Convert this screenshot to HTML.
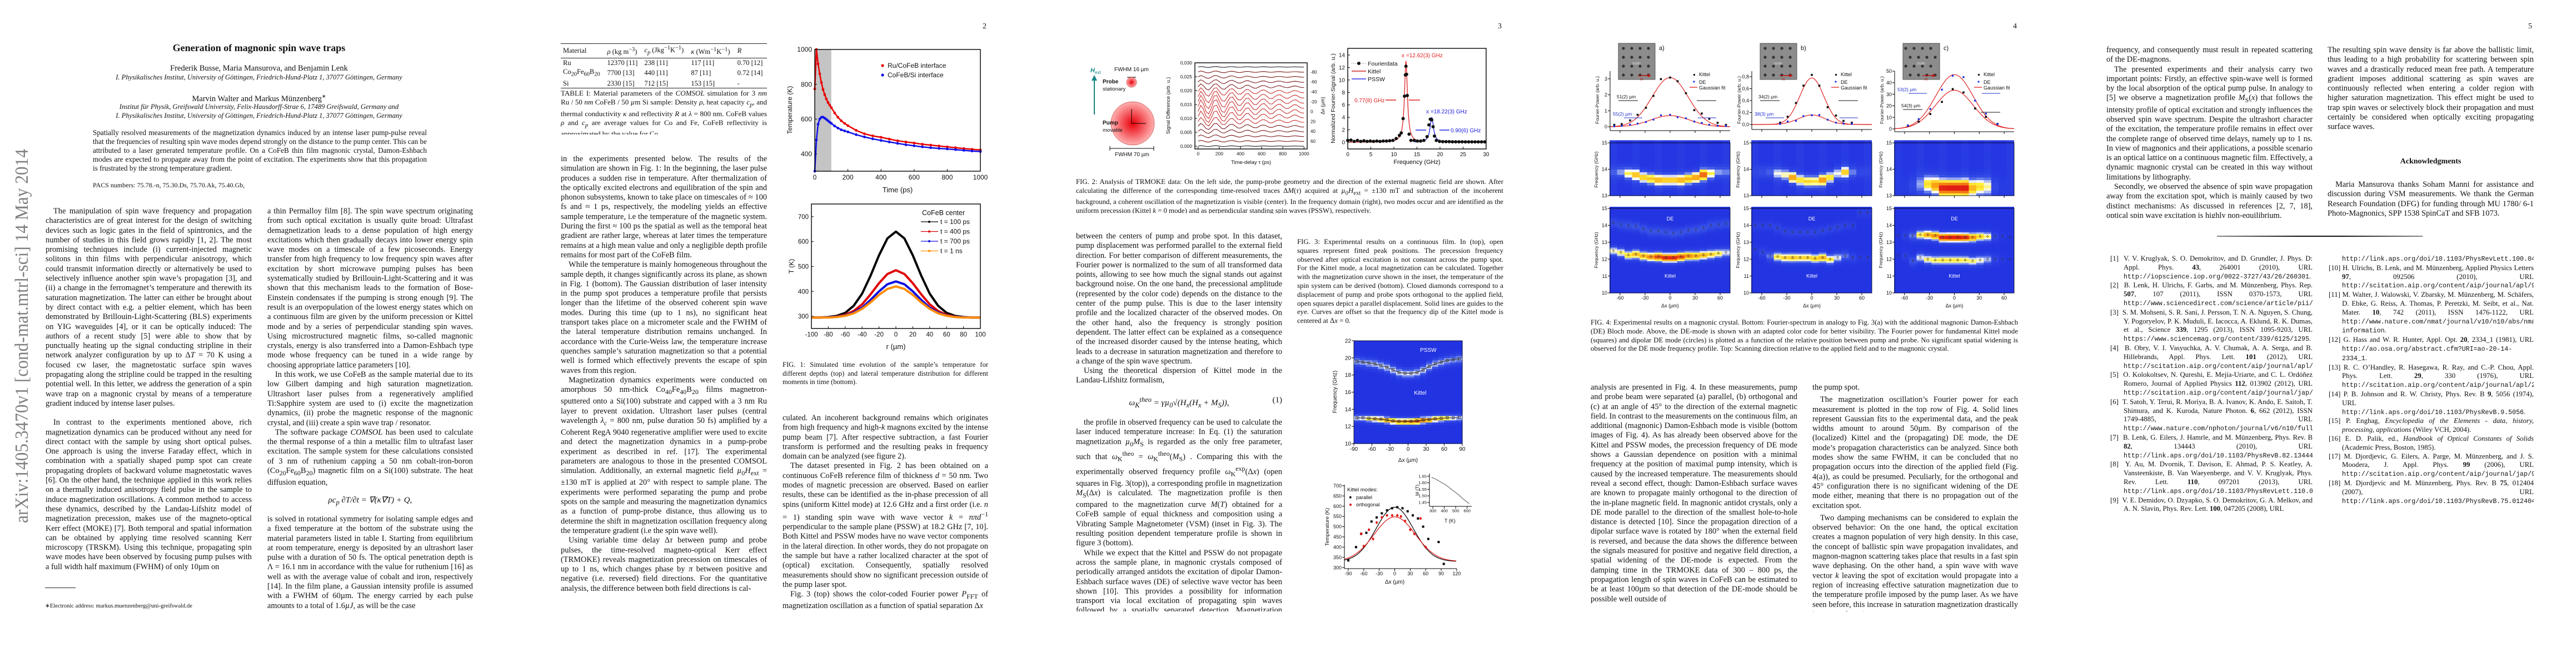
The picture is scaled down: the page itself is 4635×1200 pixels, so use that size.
<!DOCTYPE html>
<html lang="en">
<head>
<meta charset="utf-8">
<title>Generation of magnonic spin wave traps</title>
<style>
  html,body{margin:0;padding:0;background:#fff;}
  body{width:4635px;height:1200px;position:relative;overflow:hidden;}
  .t{position:absolute;font-family:"Liberation Serif",serif;font-size:14.4px;line-height:17.3px;text-align:justify;color:#111;overflow:hidden;hyphens:auto;-webkit-hyphens:auto;}
  .t p{margin:0;text-indent:14px;}
  .t p.ni{text-indent:0;}
  .cap{position:absolute;font-family:"Liberation Serif",serif;font-size:12.6px;line-height:15.8px;text-align:justify;color:#111;overflow:hidden;hyphens:auto;}
  .ctr{position:absolute;font-family:"Liberation Serif",serif;text-align:center;color:#111;white-space:nowrap;}
  .pn{position:absolute;top:40px;font-family:"Liberation Serif",serif;font-size:14px;color:#111;}
  .eq{position:absolute;font-family:"Liberation Serif",serif;font-size:15px;font-style:italic;text-align:center;color:#111;}
  .refs{position:absolute;font-family:"Liberation Serif",serif;font-size:12.8px;line-height:15.8px;text-align:justify;color:#111;overflow:hidden;}
  .refs div{padding-left:24px;text-indent:-24px;}
  .refs code{font-family:"Liberation Mono",monospace;font-size:11.6px;}
  table.mt{border-collapse:collapse;font-family:"Liberation Serif",serif;font-size:12.5px;color:#111;}
  table.mt td{padding:0 4px;line-height:16px;white-space:nowrap;}
  #figs{position:absolute;left:0;top:0;}
</style>
</head>
<body>
<!-- ===================== PAGE 1 ===================== -->
<svg width="80" height="1200" style="position:absolute;left:0;top:0">
  <text x="0" y="0" transform="translate(50,941) rotate(-90)" font-family="Liberation Serif, serif" font-size="34" fill="#808080" textLength="673" lengthAdjust="spacingAndGlyphs">arXiv:1405.3470v1  [cond-mat.mtrl-sci]  14 May 2014</text>
</svg>
<div class="ctr" style="left:166px;width:600px;top:76px;font-size:18px;font-weight:bold;">Generation of magnonic spin wave traps</div>
<div class="ctr" style="left:166px;width:600px;top:115px;font-size:14.5px;">Frederik Busse, Maria Mansurova, and Benjamin Lenk</div>
<div class="ctr" style="left:116px;width:700px;top:132px;font-size:12.5px;font-style:italic;">I. Physikalisches Institut, University of Göttingen, Friedrich-Hund-Platz 1, 37077 Göttingen, Germany</div>
<div class="ctr" style="left:166px;width:600px;top:168px;font-size:14.5px;">Marvin Walter and Markus Münzenberg<sup style="font-size:9px">∗</sup></div>
<div class="ctr" style="left:116px;width:700px;top:185px;font-size:12.5px;font-style:italic;">Institut für Physik, Greifswald University, Felix-Hausdorff-Strae 6, 17489 Greifswald, Germany  and</div>
<div class="ctr" style="left:116px;width:700px;top:201px;font-size:12.5px;font-style:italic;">I. Physikalisches Institut, University of Göttingen, Friedrich-Hund-Platz 1, 37077 Göttingen, Germany</div>
<div class="cap" style="left:167px;top:231px;width:601px;font-size:13.2px;line-height:16px;height:82px;">Spatially resolved measurements of the magnetization dynamics induced by an intense laser pump-pulse reveal that the frequencies of resulting spin wave modes depend strongly on the distance to the pump center. This can be attributed to a laser generated temperature profile. On a CoFeB thin film magnonic crystal, Damon-Eshbach modes are expected to propagate away from the point of excitation. The experiments show that this propagation is frustrated by the strong temperature gradient.</div>
<div class="cap" style="left:167px;top:326px;width:601px;font-size:12px;">PACS numbers:  75.78.-n, 75.30.Ds, 75.70.Ak, 75.40.Gb,</div>

<div class="t" style="left:82px;top:372px;width:371px;height:660px;">
<p>The manipulation of spin wave frequency and propagation characteristics are of great interest for the design of switching devices such as logic gates in the field of spintronics, and the number of studies in this field grows rapidly [1, 2]. The most promising techniques include (i) current-injected magnetic solitons in thin films with perpendicular anisotropy, which could transmit information directly or alternatively be used to selectively influence another spin wave’s propagation [3], and (ii) a change in the ferromagnet’s temperature and therewith its saturation magnetization. The latter can either be brought about by direct contact with e.g. a peltier element, which has been demonstrated by Brillouin-Light-Scattering (BLS) experiments on YIG waveguides [4], or it can be optically induced: The authors of a recent study [5] were able to show that by punctually heating up the signal conducting stripline in their network analyzer configuration by up to Δ<i>T</i> = 70 K using a focused cw laser, the magnetostatic surface spin waves propagating along the stripline could be trapped in the resulting potential well. In this letter, we address the generation of a spin wave trap on a magnonic crystal by means of a temperature gradient induced by intense laser pulses.</p>
<p style="margin-top:17px">In contrast to the experiments mentioned above, rich magnetization dynamics can be produced without any need for direct contact with the sample by using short optical pulses. One approach is using the inverse Faraday effect, which in combination with a spatially shaped pump spot can create propagating droplets of backward volume magnetostatic waves [6]. On the other hand, the technique applied in this work relies on a thermally induced anisotropy field pulse in the sample to induce magnetization oscillations. A common method to access these dynamics, described by the Landau-Lifshitz model of magnetization precession, makes use of the magneto-optical Kerr effect (MOKE) [7]. Both temporal and spatial information can be obtained by applying time resolved scanning Kerr microscopy (TRSKM). Using this technique, propagating spin wave modes have been observed by focusing pump pulses with a full width half maximum (FWHM) of only 10µm on</p>
</div>
<div style="position:absolute;left:81px;top:1057px;width:55px;height:1px;background:#222"></div>
<div class="cap" style="left:81px;top:1083px;width:400px;font-size:10.5px;">∗Electronic address: markus.muenzenberg@uni-greifswald.de</div>

<div class="t" style="left:481px;top:372px;width:370px;height:503px;">
<p class="ni">a thin Permalloy film [8]. The spin wave spectrum originating from such optical excitation is usually quite broad: Ultrafast demagnetization leads to a dense population of high energy excitations which then gradually decays into lower energy spin wave modes on a timescale of a few picoseconds. Energy transfer from high frequency to low frequency spin waves after excitation by short microwave pumping pulses has been systematically studied by Brillouin-Light-Scattering and it was shown that this mechanism leads to the formation of Bose-Einstein condensates if the pumping is strong enough [9]. The result is an overpopulation of the lowest energy states which on a continuous film are given by the uniform precession or Kittel mode and by a series of perpendicular standing spin waves. Using microstructured magnetic films, so-called magnonic crystals, energy is also transferred into a Damon-Eshbach type mode whose frequency can be tuned in a wide range by choosing appropriate lattice parameters [10].</p>
<p>In this work, we use CoFeB as the sample material due to its low Gilbert damping and high saturation magnetization. Ultrashort laser pulses from a regeneratively amplified Ti:Sapphire system are used to (i) excite the magnetization dynamics, (ii) probe the magnetic response of the magnonic crystal, and (iii) create a spin wave trap / resonator.</p>
<p>The software package <i>COMSOL</i> has been used to calculate the thermal response of a thin a metallic film to ultrafast laser excitation. The sample system for these calculations consisted of 3 nm of ruthenium capping a 50 nm cobalt-iron-boron (Co<sub>20</sub>Fe<sub>60</sub>B<sub>20</sub>) magnetic film on a Si(100) substrate. The heat diffusion equation,</p>
</div>
<div class="eq" style="left:481px;top:890px;width:370px;">ρc<sub>p</sub> ∂T/∂t = ∇(κ∇T) + Q,</div>
<div class="t" style="left:481px;top:926px;width:370px;height:174px;">
<p class="ni">is solved in rotational symmetry for isolating sample edges and a fixed temperature at the bottom of the substrate using the material parameters listed in table I. Starting from equilibrium at room temperature, energy is deposited by an ultrashort laser pulse with a duration of 50 fs. The optical penetration depth is Λ = 16.1 nm in accordance with the value for ruthenium [16] as well as with the average value of cobalt and iron, respectively [14]. In the film plane, a Gaussian intensity profile is assumed with a FWHM of 60µm. The energy carried by each pulse amounts to a total of 1.6<i>µJ</i>, as will be the case</p>
</div>

<!-- ===================== PAGE 2 ===================== -->
<div class="pn" style="left:1768px;">2</div>
<div style="position:absolute;left:1009px;top:78px;width:371px;border-top:1px solid #222;border-bottom:1px solid #222;">
<table class="mt" style="width:371px">
<tr style="border-bottom:1px solid #222"><td>Material</td><td><i>ρ</i> (kg m<sup>−3</sup>)</td><td><i>c<sub>p</sub></i> (Jkg<sup>−1</sup>K<sup>−1</sup>)</td><td><i>κ</i> (Wm<sup>−1</sup>K<sup>−1</sup>)</td><td><i>R</i></td></tr>
<tr><td>Ru</td><td>12370 [11]</td><td>238 [11]</td><td>117 [11]</td><td>0.70 [12]</td></tr>
<tr><td>Co<sub>20</sub>Fe<sub>60</sub>B<sub>20</sub></td><td>7700 [13]</td><td>440 [11]</td><td>87 [11]</td><td>0.72 [14]</td></tr>
<tr><td>Si</td><td>2330 [15]</td><td>712 [15]</td><td>153 [15]</td><td>-</td></tr>
</table></div>
<div class="cap" style="left:1009px;top:160px;width:371px;height:82px;font-size:13px;line-height:16px;">TABLE I: Material parameters of the <i>COMSOL</i> simulation for 3 <i>nm</i> Ru / 50 <i>nm</i> CoFeB / 50 <i>µ</i>m Si sample: Density <i>ρ</i>, heat capacity <i>c<sub>p</sub></i>, and thermal conductivity <i>κ</i> and reflectivity <i>R</i> at <i>λ</i> = 800 nm. CoFeB values <i>ρ</i> and <i>c<sub>p</sub></i> are average values for Co and Fe, CoFeB reflectivity is approximated by the value for Co.</div>
<div class="t" style="left:1009px;top:278px;width:371px;height:822px;">
<p class="ni">in the experiments presented below. The results of the simulation are shown in Fig. 1: In the beginning, the laser pulse produces a sudden rise in temperature. After thermalization of the optically excited electrons and equilibration of the spin and phonon subsystems, known to take place on timescales of ≈ 100 fs and ≈ 1 ps, respectively, the modeling yields an effective sample temperature, i.e the temperature of the magnetic system. During the first ≈ 100 ps the spatial as well as the temporal heat gradient are rather large, whereas at later times the temperature remains at a high mean value and only a negligible depth profile remains for most part of the CoFeB film.</p>
<p>While the temperature is mainly homogeneous throughout the sample depth, it changes significantly across its plane, as shown in Fig. 1 (bottom). The Gaussian distribution of laser intensity in the pump spot produces a temperature profile that persists longer than the lifetime of the observed coherent spin wave modes. During this time (up to 1 ns), no significant heat transport takes place on a micrometer scale and the FWHM of the lateral temperature distribution remains unchanged. In accordance with the Curie-Weiss law, the temperature increase quenches sample’s saturation magnetization so that a potential well is formed which effectively prevents the escape of spin waves from this region.</p>
<p>Magnetization dynamics experiments were conducted on amorphous 50 nm-thick Co<sub>40</sub>Fe<sub>40</sub>B<sub>20</sub> films magnetron-sputtered onto a Si(100) substrate and capped with a 3 nm Ru layer to prevent oxidation. Ultrashort laser pulses (central wavelength <i>λ<sub>c</sub></i> = 800 nm, pulse duration 50 fs) amplified by a Coherent RegA 9040 regenerative amplifier were used to excite and detect the magnetization dynamics in a pump-probe experiment as described in ref. [17]. The experimental parameters are analogous to those in the presented COMSOL simulation. Additionally, an external magnetic field <i>µ</i><sub>0</sub><i>H</i><sub>ext</sub> = ±130 mT is applied at 20° with respect to sample plane. The experiments were performed separating the pump and probe spots on the sample and measuring the magnetization dynamics as a function of pump-probe distance, thus allowing us to determine the shift in magnetization oscillation frequency along the temperature gradient (i.e the spin wave well).</p>
<p>Using variable time delay Δ<i>τ</i> between pump and probe pulses, the time-resolved magneto-optical Kerr effect (TRMOKE) reveals magnetization precession on timescales of up to 1 ns, which changes phase by <i>π</i> between positive and negative (i.e. reversed) field directions. For the quantitative analysis, the difference between both field directions is cal-</p>
</div>
<div class="cap" style="left:1408px;top:649px;width:370px;height:48px;font-size:12.5px;line-height:15.5px;">FIG. 1: Simulated time evolution of the sample’s temperature for different depths (top) and lateral temperature distribution for different moments in time (bottom).</div>
<div class="t" style="left:1408px;top:744px;width:370px;height:356px;">
<p class="ni">culated. An incoherent background remains which originates from high frequency and high-<i>k</i> magnons excited by the intense pump beam [7]. After respective subtraction, a fast Fourier transform is performed and the resulting peaks in frequency domain can be analyzed (see figure 2).</p>
<p>The dataset presented in Fig. 2 has been obtained on a continuous CoFeB reference film of thickness <i>d</i> = 50 nm. Two modes of magnetic precession are observed. Based on earlier results, these can be identified as the in-phase precession of all spins (uniform Kittel mode) at 12.6 GHz and a first order (i.e. <i>n</i> = 1) standing spin wave with wave vector <i>k</i> = <i>nπd</i><sup>−1</sup> perpendicular to the sample plane (PSSW) at 18.2 GHz [7, 10]. Both Kittel and PSSW modes have no wave vector components in the lateral direction. In other words, they do not propagate on the sample but have a rather localized character at the spot of (optical) excitation. Consequently, spatially resolved measurements should show no significant precession outside of the pump laser spot.</p>
<p>Fig. 3 (top) shows the color-coded Fourier power <i>P</i><sub>FFT</sub> of magnetization oscillation as a function of spatial separation Δ<i>x</i></p>
</div>

<!-- ===================== PAGE 3 ===================== -->
<div class="pn" style="left:2695px;">3</div>
<div class="cap" style="left:1936px;top:320px;width:769px;height:64px;font-size:12.8px;">FIG. 2: Analysis of TRMOKE data: On the left side, the pump-probe geometry and the direction of the external magnetic field are shown. After calculating the difference of the corresponding time-resolved traces Δ<i>M</i>(<i>τ</i>) acquired at <i>µ</i><sub>0</sub><i>H</i><sub>ext</sub> = ±130 mT and subtraction of the incoherent background, a coherent oscillation of the magnetization is visible (center). In the frequency domain (right), two modes occur and are identified as the uniform precession (Kittel <i>k</i> = 0 mode) and as perpendicular standing spin waves (PSSW), respectively.</div>
<div class="t" style="left:1936px;top:417px;width:371px;height:278px;">
<p class="ni">between the centers of pump and probe spot. In this dataset, pump displacement was performed parallel to the external field direction. For better comparison of different measurements, the Fourier power is normalized to the sum of all transformed data points, allowing to see how much the signal stands out against background noise. On the one hand, the precessional amplitude (represented by the color code) depends on the distance to the center of the pump pulse. This is due to the laser intensity profile and the localized character of the observed modes. On the other hand, also the frequency is strongly position dependent. The latter effect can be explained as a consequence of the increased disorder caused by the intense heating, which leads to a decrease in saturation magnetization and therefore to a change of the spin wave spectrum.</p>
<p>Using the theoretical dispersion of Kittel mode in the Landau-Lifshitz formalism,</p>
</div>
<div class="eq" style="left:1936px;top:712px;width:371px;">ω<sub>K</sub><sup>theo</sup> = γµ<sub>0</sub>√(H<sub>x</sub>(H<sub>x</sub> + M<sub>S</sub>)),<span style="position:absolute;right:0;font-style:normal">(1)</span></div>
<div class="t" style="left:1936px;top:752px;width:371px;height:348px;">
<p>the profile in observed frequency can be used to calculate the laser induced temperature increase: In Eq. (1) the saturation magnetization <i>µ</i><sub>0</sub><i>M</i><sub>S</sub> is regarded as the only free parameter, such that <i>ω</i><sub>K</sub><sup>theo</sup> = <i>ω</i><sub>K</sub><sup>theo</sup>(<i>M</i><sub>S</sub>) . Comparing this with the experimentally observed frequency profile <i>ω</i><sub>K</sub><sup>exp</sup>(Δ<i>x</i>) (open squares in Fig. 3(top)), a corresponding profile in magnetization <i>M</i><sub>S</sub>(Δ<i>x</i>) is calculated. The magnetization profile is then compared to the magnetization curve <i>M</i>(<i>T</i>) obtained for a CoFeB sample of equal thickness and composition using a Vibrating Sample Magnetometer (VSM) (inset in Fig. 3). The resulting position dependent temperature profile is shown in figure 3 (bottom).</p>
<p>While we expect that the Kittel and PSSW do not propagate across the sample plane, in magnonic crystals composed of periodically arranged antidots the excitation of dipolar Damon-Eshbach surface waves (DE) of selective wave vector has been shown [10]. This provides a possibility for information transport via local excitation of propagating spin waves followed by a spatially separated detection. Magnetization dynamics measurement on a magnonic crystal and its</p>
</div>
<div class="cap" style="left:2334px;top:428px;width:371px;height:160px;font-size:12.8px;line-height:15.8px;">FIG. 3: Experimental results on a continuous film. In (top), open squares represent fitted peak positions. The precession frequency observed after optical excitation is not constant across the pump spot. For the Kittel mode, a local magnetization can be calculated. Together with the magnetization curve shown in the inset, the temperature of the spin system can be derived (bottom). Closed diamonds correspond to a displacement of pump and probe spots orthogonal to the applied field, open squares depict a parallel displacement. Solid lines are guides to the eye. Curves are offset so that the frequency dip of the Kittel mode is centered at Δ<i>x</i> = 0.</div>

<!-- ===================== PAGE 4 ===================== -->
<div class="pn" style="left:3622px;">4</div>
<div class="cap" style="left:2862px;top:573px;width:769px;height:80px;font-size:12.8px;line-height:15.8px;">FIG. 4: Experimental results on a magnonic crystal. Bottom: Fourier-spectrum in analogy to Fig. 3(a) with the additional magnonic Damon-Eshbach (DE) Bloch mode. Above, the DE-mode is shown with an adapted color code for better visibility. The Fourier power for fundamental Kittel mode (squares) and dipolar DE mode (circles) is plotted as a function of the relative position between pump and probe. No significant spatial widening is observed for the DE mode frequency profile. Top: Scanning direction relative to the applied field and to the magnonic crystal.</div>
<div class="t" style="left:2862px;top:689px;width:372px;height:411px;">
<p class="ni">analysis are presented in Fig. 4. In these measurements, pump and probe beam were separated (a) parallel, (b) orthogonal and (c) at an angle of 45° to the direction of the external magnetic field. In contrast to the measurements on the continuous film, an additional (magnonic) Damon-Eshbach mode is visible (bottom images of Fig. 4). As has already been observed above for the Kittel and PSSW modes, the precession frequency of DE mode shows a Gaussian dependence on position with a minimal frequency at the position of maximal pump intensity, which is caused by the increased temperature. The measurements should reveal a second effect, though: Damon-Eshbach surface waves are known to propagate mainly orthogonal to the direction of the in-plane magnetic field. In magnonic antidot crystals, only a DE mode parallel to the direction of the smallest hole-to-hole distance is detected [10]. Since the propagation direction of a dipolar surface wave is rotated by 180° when the external field is reversed, and because the data shows the difference between the signals measured for positive and negative field direction, a spatial widening of the DE-mode is expected. From the damping time in the TRMOKE data of 300 – 800 ps, the propagation length of spin waves in CoFeB can be estimated to be at least 100µm so that detection of the DE-mode should be possible well outside of</p>
</div>
<div class="t" style="left:3261px;top:689px;width:370px;height:411px;">
<p class="ni">the pump spot.</p>
<p style="margin-top:5px">The magnetization oscillation’s Fourier power for each measurement is plotted in the top row of Fig. 4. Solid lines represent Gaussian fits to the experimental data, and the peak widths amount to around 50µm. By comparison of the (localized) Kittel and the (propagating) DE mode, the DE mode’s propagation characteristics can be analyzed. Since both modes show the same FWHM, it can be concluded that no propagation occurs into the direction of the applied field (Fig. 4(a)), as could be presumed. Peculiarly, for the orthogonal and 45° configuration there is no significant widening of the DE mode either, meaning that there is no propagation out of the excitation spot.</p>
<p style="margin-top:5px">Two damping mechanisms can be considered to explain the observed behavior: On the one hand, the optical excitation creates a magnon population of very high density. In this case, the concept of ballistic spin wave propagation invalidates, and magnon-magnon scattering takes place that results in a fast spin wave dephasing. On the other hand, a spin wave with wave vector <i>k</i> leaving the spot of excitation would propagate into a region of increasing effective saturation magnetization due to the temperature profile imposed by the pump laser. As we have seen before, this increase in saturation magnetization drastically increases the spin wave</p>
</div>

<!-- ===================== PAGE 5 ===================== -->
<div class="pn" style="left:4549px;">5</div>
<div class="t" style="left:3790px;top:82px;width:371px;height:310px;">
<p class="ni">frequency, and consequently must result in repeated scattering of the DE-magnons.</p>
<p>The presented experiments and their analysis carry two important points: Firstly, an effective spin-wave well is formed by the local absorption of the optical pump pulse. In analogy to [5] we observe a magnetization profile <i>M</i><sub>S</sub>(<i>x</i>) that follows the intensity profile of optical excitation and strongly influences the observed spin wave spectrum. Despite the ultrashort character of the excitation, the temperature profile remains in effect over the complete range of observed time delays, namely up to 1 ns. In view of magnonics and their applications, a possible scenario is an optical lattice on a continuous magnetic film. Effectively, a dynamic magnonic crystal can be created in this way without limitations by lithography.</p>
<p>Secondly, we observed the absence of spin wave propagation away from the excitation spot, which is mainly caused by two distinct mechanisms: As discussed in references [2, 7, 18], optical spin wave excitation is highly non-equilibrium.</p>
</div>
<div class="t" style="left:4188px;top:82px;width:371px;height:160px;">
<p class="ni">The resulting spin wave density is far above the ballistic limit, thus leading to a high probability for scattering between spin waves and a drastically reduced mean free path. A temperature gradient imposes additional scattering as spin waves are continuously reflected when entering a colder region with higher saturation magnetization. This effect might be used to trap spin waves or selectively block their propagation and must certainly be considered when optically exciting propagating surface waves.</p>
</div>
<div class="ctr" style="left:4188px;width:371px;top:283px;font-size:14px;font-weight:bold;">Acknowledgments</div>
<div class="t" style="left:4188px;top:324px;width:371px;height:72px;">
<p>Maria Mansurova thanks Soham Manni for assistance and discussion during VSM measurements. We thank the German Research Foundation (DFG) for funding through MU 1780/ 6-1 Photo-Magnonics, SPP 1538 SpinCaT and SFB 1073.</p>
</div>
<div style="position:absolute;left:3989px;top:424px;width:370px;height:2px;background:linear-gradient(90deg,#888,#111 40%,#111 60%,#888)"></div>
<div class="refs" style="left:3797px;top:458px;width:364px;height:530px;">
<div>[1]&nbsp; V. V. Kruglyak, S. O. Demokritov, and D. Grundler, J. Phys. D: Appl. Phys. <b>43</b>, 264001 (2010), URL <code>http://iopscience.iop.org/0022-3727/43/26/260301</code>.</div>
<div>[2]&nbsp; B. Lenk, H. Ulrichs, F. Garbs, and M. Münzenberg, Phys. Rep. <b>507</b>, 107 (2011), ISSN 0370-1573, URL <code>http://www.sciencedirect.com/science/article/pii/S0370157311001694</code>.</div>
<div>[3]&nbsp; S. M. Mohseni, S. R. Sani, J. Persson, T. N. A. Nguyen, S. Chung, Y. Pogoryelov, P. K. Muduli, E. Iacocca, A. Eklund, R. K. Dumas, et al., Science <b>339</b>, 1295 (2013), ISSN 1095-9203, URL <code>https://www.sciencemag.org/content/339/6125/1295</code>.</div>
<div>[4]&nbsp; B. Obry, V. I. Vasyuchka, A. V. Chumak, A. A. Serga, and B. Hillebrands, Appl. Phys. Lett. <b>101</b> (2012), URL <code>http://scitation.aip.org/content/aip/journal/apl/101/19/10.1063/1.4767137</code>.</div>
<div>[5]&nbsp; O. Kolokoltsev, N. Qureshi, E. Mejía-Uriarte, and C. L. Ordóñez Romero, Journal of Applied Physics <b>112</b>, 013902 (2012), URL <code>http://scitation.aip.org/content/aip/journal/jap/112/1/10.1063/1.4730927</code>.</div>
<div>[6]&nbsp; T. Satoh, Y. Terui, R. Moriya, B. A. Ivanov, K. Ando, E. Saitoh, T. Shimura, and K. Kuroda, Nature Photon. <b>6</b>, 662 (2012), ISSN 1749-4885, URL <code>http://www.nature.com/nphoton/journal/v6/n10/full/nphoton.2012.218.html</code>.</div>
<div>[7]&nbsp; B. Lenk, G. Eilers, J. Hamrle, and M. Münzenberg, Phys. Rev. B <b>82</b>, 134443 (2010), URL <code>http://link.aps.org/doi/10.1103/PhysRevB.82.134443</code>.</div>
<div>[8]&nbsp; Y. Au, M. Dvornik, T. Davison, E. Ahmad, P. S. Keatley, A. Vansteenkiste, B. Van Waeyenberge, and V. V. Kruglyak, Phys. Rev. Lett. <b>110</b>, 097201 (2013), URL <code>http://link.aps.org/doi/10.1103/PhysRevLett.110.097201</code>.</div>
<div>[9]&nbsp; V. E. Demidov, O. Dzyapko, S. O. Demokritov, G. A. Melkov, and A. N. Slavin, Phys. Rev. Lett. <b>100</b>, 047205 (2008), URL</div>
</div>
<div class="refs" style="left:4190px;top:458px;width:369px;height:500px;">
<div style="padding-left:24px;text-indent:0"><code>http://link.aps.org/doi/10.1103/PhysRevLett.100.047205</code>.</div>
<div>[10] H. Ulrichs, B. Lenk, and M. Münzenberg, Applied Physics Letters <b>97</b>, 092506 (2010), URL <code>http://scitation.aip.org/content/aip/journal/apl/97/9/10.1063/1.3483136</code>.</div>
<div>[11] M. Walter, J. Walowski, V. Zbarsky, M. Münzenberg, M. Schäfers, D. Ebke, G. Reiss, A. Thomas, P. Peretzki, M. Seibt, et al., Nat. Mater. <b>10</b>, 742 (2011), ISSN 1476-1122, URL <code>http://www.nature.com/nmat/journal/v10/n10/abs/nmat3076.html#supplementary-information</code>.</div>
<div>[12] G. Hass and W. R. Hunter, Appl. Opt. <b>20</b>, 2334_1 (1981), URL <code>http://ao.osa.org/abstract.cfm?URI=ao-20-14-2334_1</code>.</div>
<div>[13] R. C. O’Handley, R. Hasegawa, R. Ray, and C.-P. Chou, Appl. Phys. Lett. <b>29</b>, 330 (1976), URL <code>http://scitation.aip.org/content/aip/journal/apl/29/6/10.1063/1.89085</code>.</div>
<div>[14] P. B. Johnson and R. W. Christy, Phys. Rev. B <b>9</b>, 5056 (1974), URL <code>http://link.aps.org/doi/10.1103/PhysRevB.9.5056</code>.</div>
<div>[15] P. Enghag, <i>Encyclopedia of the Elements - data, history, processing, applications</i> (Wiley VCH, 2004).</div>
<div>[16] E. D. Palik, ed., <i>Handbook of Optical Constants of Solids</i> (Academic Press, Boston, 1985).</div>
<div>[17] M. Djordjevic, G. Eilers, A. Parge, M. Münzenberg, and J. S. Moodera, J. Appl. Phys. <b>99</b> (2006), URL <code>http://scitation.aip.org/content/aip/journal/jap/99/8/10.1063/1.2177141</code>.</div>
<div>[18] M. Djordjevic and M. Münzenberg, Phys. Rev. B <b>75</b>, 012404 (2007), URL <code>http://link.aps.org/doi/10.1103/PhysRevB.75.012404</code>.</div>
</div>

<!-- ===================== FIGURES ===================== -->
<svg id="figs" width="4635" height="1200">
  <defs>
    <radialGradient id="spot" cx="50%" cy="50%" r="50%">
      <stop offset="0%" stop-color="#e8000a"/>
      <stop offset="100%" stop-color="#ffb0b0"/>
    </radialGradient>
  </defs>
</svg>

<script>
// ---------------- DATA ----------------
const fig1Time = [0,10,20,30,40,50,60,70,80,90,100,120,140,160,180,200,250,300,350,400,450,500,550,600,650,700,750,800,850,900,950,1000];
const fig1RuCoFeB = [773,1000,917,860,810,770,740,715,695,680,666,635,610,590,575,562,535,515,503,495,485,475,468,462,455,450,445,440,435,430,426,422];
const fig1CoFeBSi = [300,480,570,600,610,611,605,598,590,582,575,560,548,538,532,526,510,497,486,477,468,460,452,446,440,435,431,428,424,420,416,413];
const fig1aXTicks = [0,200,400,600,800,1000];
const fig1aYTicks = [400,600,800,1000];
const fig1R = [-100,-90,-80,-70,-60,-50,-40,-30,-20,-10,0,10,20,30,40,50,60,70,80,90,100];
const fig1T100 = [295,295,297,302,314,342,391,463,545,613,640,613,545,463,391,342,314,302,297,295,295];
const fig1T400 = [295,295,296,299,306,321,348,388,433,470,485,470,433,388,348,321,306,299,296,295,295];
const fig1T700 = [295,295,296,298,303,315,335,366,400,429,440,429,400,366,335,315,303,298,296,295,295];
const fig1T1000 = [295,295,295,297,302,312,330,356,386,410,420,410,386,356,330,312,302,297,295,295,295];
const fig1bLabels = ['t = 100 ps','t = 400 ps','t = 700 ps','t = 1 ns'];
const fig1bXTicks = [-100,-80,-60,-40,-20,0,20,40,60,80,100];
const fig1bYTicks = [300,400,500,600,700];
const fig2TraceDx = [-90,-80,-70,-60,-50,-40,-30,-20,-10,0,10,20,30,40,50,60,80];
const fig2TraceAmp = [0.2,0.4,0.6,0.9,1.3,1.8,2.4,2.8,3.0,2.8,2.4,1.8,1.3,0.9,0.6,0.4,0.2];
const fig2WaveT = [0,25,50,75,100,125,150,175,200,225,250,275,300,325,350,375,400,425,450,475,500,525,550,575,600,625,650,675,700,725,750,775,800,825,850,875,900,925,950,975,1000];
const fig2Wave = [0,0.8,0.3,-0.6,-0.9,-0.2,0.7,0.8,0.1,-0.6,-0.7,-0.1,0.5,0.6,0.1,-0.45,-0.5,-0.1,0.4,0.45,0.05,-0.35,-0.4,-0.05,0.3,0.35,0.05,-0.3,-0.3,0,0.25,0.28,0.02,-0.22,-0.25,-0.03,0.2,0.22,0,-0.18,-0.2];
const fig2DataF = [0,0.7,1.4,2.1,2.8,3.5,4.2,4.9,5.6,6.3,7,7.7,8.4,9.1,9.8,10.5,11.2,11.6,12.0,12.3,12.5,12.62,12.75,12.9,13.3,13.7,14.4,15.1,15.8,16.5,17.2,17.6,17.9,18.2,18.5,18.8,19.2,19.9,20.6,21.3,22,22.7,23.4,24.1,24.8,25.5,26.2,26.9,27.6,28.3,29,29.7];
const fig2DataV = [0.3,0.35,0.15,0.3,0.15,0.25,0.15,0.2,0.15,0.2,0.15,0.2,0.2,0.25,0.3,0.6,1.1,1.5,3.8,7.4,10.8,12.2,10.9,7.5,1.3,0.3,0.3,0.2,0.2,0.3,0.9,2.8,3.7,3.6,2.5,1.0,0.3,0.15,0.1,0.1,0.1,0.08,0.08,0.08,0.08,0.07,0.07,0.07,0.07,0.07,0.07,0.07];
const fig2KittelFit = [12.62,0.77,13.0];
const fig2PsswFit = [18.22,0.90,4.0];
const fig2XTicks = [0,5,10,15,20,25,30];
const fig2YTicks = [0,2,4,6,8,10,12,14];
const fig3Dx = [-85,-75,-65,-55,-45,-35,-25,-15,-5,5,15,25,35,45,55,65,75,85];
const fig3KittelF = [13.0,13.0,12.95,12.9,12.85,12.75,12.65,12.6,12.6,12.6,12.65,12.75,12.8,12.9,12.95,13.0,13.0,13.05];
const fig3KittelI = [0.45,0.5,0.6,0.68,0.72,0.75,0.78,0.8,0.82,0.85,0.9,0.85,0.78,0.72,0.66,0.6,0.5,0.45];
const fig3PsswF = [19.6,19.5,19.4,19.3,19.1,18.9,18.6,18.3,18.2,18.2,18.3,18.6,19.0,19.3,19.5,19.7,19.8,19.9];
const fig3PsswI = [0.38,0.4,0.42,0.43,0.44,0.45,0.46,0.46,0.46,0.46,0.46,0.45,0.44,0.43,0.42,0.4,0.38,0.38];
const fig3XTicks = [-90,-60,-30,0,30,60,90];
const fig3YTicks = [10,12,14,16,18,20,22];
const fig3ParDx = [-90,-75,-65,-55,-45,-35,-25,-15,-5,5,15,25,35,45,55,65,85,95];
const fig3ParT = [335,400,465,470,525,545,565,580,590,595,590,575,555,540,500,440,425,318];
const fig3OrtDx = [-65,-60,-50,-42,-35,-25,-15,-5,5,12,20,30,38,50,60];
const fig3OrtT = [465,405,485,440,520,545,555,555,555,550,528,485,465,540,400];
const fig3ParFit = [595,330,36];
const fig3OrtFit = [548,330,40];
const fig3bXTicks = [-90,-60,-30,0,30,60,90,120];
const fig3bYTicks = [300,350,400,450,500,550,600,650,700];
const fig3InsetT = [290,320,350,380,410,440,470,500,530,560,590,620];
const fig3InsetM = [1.64,1.63,1.615,1.60,1.585,1.565,1.545,1.525,1.505,1.48,1.46,1.44];
const fig4aX = [-67,-58,-48,-39,-29,-20,-11,0,9,19,29,38,47,57,67];
const fig4aKittel = [0.12,0.17,0.4,0.75,1.19,1.93,2.98,3.08,2.85,2.1,1.04,0.83,0.5,0.25,0.12];
const fig4aDE = [0.03,0.06,0.13,0.2,0.3,0.45,0.72,0.75,0.6,0.53,0.33,0.24,0.13,0.07,0.05];
const fig4aFit = [3.08,51,0.7,55];
const fig4bX = [-38,-29,-19,-10,0,9,19,29,38,48];
const fig4bKittel = [0.03,0.13,0.36,0.65,0.83,0.65,0.29,0.15,0.06,0.03];
const fig4bDE = [0.01,0.05,0.06,0.14,0.155,0.16,0.08,0.03,0.015,0.01];
const fig4bFit = [0.78,34,0.16,38];
const fig4cX = [-56,-43,-29,-15,-2,11,25,38,52];
const fig4cKittel = [2.9,6.3,12.9,23.4,34.5,31.6,17.7,10.5,4.4];
const fig4cDE = [2.9,8.5,17.3,34,46,44.8,24.5,13.2,4.2];
const fig4cFit = [33.5,54,47,53];
const fig4WidthLabels = [['51(2) µm','55(2) µm'],['34(2) µm','38(3) µm'],['54(3) µm','53(2) µm']];
const fig4HmDx = [-68,-59,-50,-41,-32,-23,-14,-5,4,13,22,31,40,49,58,67];
const fig4aMidF = [13.9,13.9,13.85,13.8,13.7,13.65,13.6,13.6,13.6,13.6,13.65,13.7,13.8,13.85,13.9,13.9];
const fig4aMidI = [0.2,0.35,0.55,0.62,0.64,0.65,0.65,0.66,0.66,0.66,0.7,0.75,0.8,0.55,0.35,0.25];
const fig4bMidF = [13.9,13.9,13.9,13.85,13.8,13.7,13.6,13.55,13.55,13.6,13.7,13.85,13.9,13.9,13.9,13.9];
const fig4bMidI = [0.1,0.2,0.25,0.4,0.5,0.75,0.55,0.62,0.6,0.72,0.6,0.45,0.6,0.3,0.15,0.1];
const fig4cMidF = [13.4,13.4,13.4,13.45,13.45,13.4,13.3,13.3,13.3,13.3,13.3,13.35,13.35,13.35,13.35,13.3];
const fig4cMidI = [0,0.05,0.15,0.3,0.6,0.75,0.88,0.95,0.95,0.9,0.7,0.6,0.45,0.15,0.05,0];
const fig4aKiF = [12.5,12.4,12.25,12.3,12.2,12.15,12.15,12.1,12.1,12.15,12.2,12.2,12.25,12.3,12.35,12.4];
const fig4aKiI = [0.5,0.55,0.62,0.7,0.72,0.8,0.9,0.95,0.95,0.9,0.8,0.75,0.72,0.65,0.58,0.45];
const fig4aDeF = [14.15,14.05,14.0,13.95,13.8,13.65,13.65,13.6,13.55,13.6,13.7,13.75,13.85,14.0,14.05,14.1];
const fig4aDeI = [0.2,0.22,0.24,0.25,0.25,0.25,0.25,0.25,0.25,0.25,0.25,0.25,0.25,0.24,0.22,0.2];
const fig4bKiF = [12.6,12.4,12.2,12.15,12.1,12.1,12.1,12.1,12.05,12.1,12.0,12.1,12.2,12.1,12.1,12.1];
const fig4bKiI = [0.05,0.15,0.3,0.6,0.65,0.68,0.65,0.65,0.66,0.72,0.6,0.45,0.3,0.15,0.05,0.05];
const fig4bDeF = [14.0,14.0,14.0,13.85,13.65,13.6,13.6,13.6,13.6,13.7,13.8,13.9,14.0,14.0,14.75,14.75];
const fig4bDeI = [0.1,0.1,0.12,0.15,0.15,0.15,0.15,0.15,0.15,0.15,0.15,0.15,0.12,0.1,0.1,0.1];
const fig4cKiF = [12.2,12.2,11.9,12.1,12.0,11.95,11.95,11.95,11.95,11.95,11.9,11.95,12.0,12.0,12.0,12.0];
const fig4cKiI = [0,0.1,0.25,0.45,0.55,0.58,0.6,0.6,0.6,0.58,0.55,0.5,0.4,0.15,0.05,0];
const fig4cDeF = [13.4,13.4,13.4,13.45,13.45,13.4,13.3,13.3,13.3,13.3,13.3,13.35,13.35,13.35,13.35,13.3];
const fig4cDeI = [0,0.1,0.3,0.6,0.75,0.8,0.95,1.0,1.0,0.95,0.8,0.65,0.55,0.15,0.05,0];
const fig4HmXTicks = [-60,-30,0,30,60];

// ---------------- HELPERS ----------------
const NS = 'http://www.w3.org/2000/svg';
const svg = document.getElementById('figs');
function mk(tag, attrs, parent){
  const e = document.createElementNS(NS, tag);
  for (const k in attrs) e.setAttribute(k, attrs[k]);
  (parent || svg).appendChild(e);
  return e;
}
function txt(x, y, s, size, parent, extra){
  const e = mk('text', Object.assign({x:x, y:y, 'font-size':size, 'font-family':'Liberation Sans, sans-serif', fill:'#111'}, extra || {}), parent);
  e.textContent = s;
  return e;
}
function lin(d0, d1, r0, r1){ return v => r0 + (v - d0) / (d1 - d0) * (r1 - r0); }
function grp(name){
  const g = mk('g', {});
  
  
  return g;
}
function axes(g, b, xs, ys, xt, yt, o){
  o = o || {};
  const fs = o.fs || 11;
  if (o.frame !== false){
    mk('rect', {x:b.x, y:b.y, width:b.w, height:b.h, fill:'none', stroke:'#000', 'stroke-width':o.sw || 1.4}, g);
  } else {
    mk('line', {x1:b.x, y1:b.y, x2:b.x, y2:b.y + b.h, stroke:'#000', 'stroke-width':1}, g);
    mk('line', {x1:b.x, y1:b.y + b.h, x2:b.x + b.w, y2:b.y + b.h, stroke:'#000', 'stroke-width':1}, g);
  }
  xt.forEach(v => {
    const x = xs(v);
    mk('line', {x1:x, y1:b.y + b.h, x2:x, y2:b.y + b.h + (o.tout ? 4 : -4), stroke:'#000'}, g);
    if (o.xl !== false) txt(x, b.y + b.h + fs + 3, o.xf ? o.xf(v) : String(v), fs, g, {'text-anchor':'middle'});
  });
  yt.forEach(v => {
    const y = ys(v);
    mk('line', {x1:b.x, y1:y, x2:b.x + (o.tout ? -4 : 4), y2:y, stroke:'#000'}, g);
    txt(b.x - 5, y + fs * 0.35, o.yf ? o.yf(v) : String(v), fs, g, {'text-anchor':'end'});
  });
}
function poly(xsArr, ysArr, xs, ys){ return xsArr.map((v, i) => xs(v).toFixed(1) + ',' + ys(ysArr[i]).toFixed(1)).join(' '); }
const cstops = [[0,[30,45,225]],[0.3,[55,80,230]],[0.42,[140,160,240]],[0.52,[248,248,255]],[0.62,[255,245,60]],[0.82,[250,160,20]],[1,[225,30,20]]];
function cmap(v){
  v = Math.max(0, Math.min(1, v));
  for (let i = 1; i < cstops.length; i++){
    if (v <= cstops[i][0]){
      const a = cstops[i-1], b = cstops[i], t = (v - a[0]) / (b[0] - a[0]);
      const c = a[1].map((x, j) => Math.round(x + (b[1][j] - x) * t));
      return 'rgb(' + c.join(',') + ')';
    }
  }
  return 'rgb(225,30,20)';
}
function rotLabel(g, x, y, s, fs){ txt(0, 0, s, fs, g, {'text-anchor':'middle', transform:'translate(' + x + ',' + y + ') rotate(-90)'}); }

// ---------------- FIG 1a ----------------
(function(){
  const g = grp('fig1-time-evolution-chart');
  const b = {x:1466, y:89, w:298, h:219};
  const xs = lin(0, 1000, b.x, b.x + b.w), ys = lin(300, 1000, b.y + b.h, b.y);
  const shade = mk('rect', {x:xs(0), y:b.y, width:xs(100) - xs(0), height:b.h, fill:'#c4c4c4'}, g);
  
  const series = [[fig1RuCoFeB, '#e80000', 'red-interface-series'], [fig1CoFeBSi, '#1010e8', 'blue-interface-series']];
  series.forEach(s => {
    const pl = mk('polyline', {points:poly(fig1Time, s[0], xs, ys), fill:'none', stroke:s[1], 'stroke-width':2.5}, g);
    
    fig1Time.forEach((t, i) => {
      const c = mk('circle', {cx:xs(t), cy:ys(s[0][i]), r:2.4, fill:s[1]}, g);
      
    });
  });
  axes(g, b, xs, ys, fig1aXTicks, fig1aYTicks, {fs:12, tout:false});
  txt(xs(500), 346, 'Time (ps)', 13, g, {'text-anchor':'middle'});
  rotLabel(g, 1425, 198, 'Temperature (K)', 12);
  mk('circle', {cx:1588, cy:118, r:2.6, fill:'#e80000'}, g);
  txt(1597, 122, 'Ru/CoFeB interface', 12, g);
  mk('circle', {cx:1588, cy:135, r:2.6, fill:'#1010e8'}, g);
  txt(1597, 139, 'CoFeB/Si interface', 12, g);
})();

// ---------------- FIG 1b ----------------
(function(){
  const g = grp('fig1-lateral-profile-chart');
  const b = {x:1460, y:367, w:304, h:224};
  const xs = lin(-100, 100, b.x, b.x + b.w), ys = lin(251, 751, b.y + b.h, b.y);
  const cols = ['#000000', '#e00000', '#1010e0', '#ff8c00'];
  const sets = [fig1T100, fig1T400, fig1T700, fig1T1000];
  sets.forEach((s, k) => {
    const pl = mk('polyline', {points:poly(fig1R, s, xs, ys), fill:'none', stroke:cols[k], 'stroke-width':4, 'stroke-linejoin':'round'}, g);
    
  });
  axes(g, b, xs, ys, fig1bXTicks, fig1bYTicks, {fs:11.5});
  txt(xs(0), 628, 'r (µm)', 13, g, {'text-anchor':'middle'});
  rotLabel(g, 1428, 479, 'T (K)', 12);
  txt(1659, 387, 'CoFeB center', 12.5, g);
  fig1bLabels.forEach((l, k) => {
    const y = 399 + k * 17.5;
    mk('line', {x1:1657, y1:y, x2:1688, y2:y, stroke:cols[k], 'stroke-width':1.2}, g);
    mk('circle', {cx:1672, cy:y, r:2, fill:cols[k]}, g);
    const t = txt(1692, y + 4, l, 12, g);
    
  });
})();

// ---------------- FIG 2 diagram ----------------
(function(){
  const g = grp('fig2-geometry-diagram');
  mk('line', {x1:1969, y1:206, x2:1969, y2:142, stroke:'#158585', 'stroke-width':2}, g);
  mk('polygon', {points:'1964,145 1974,145 1969,135', fill:'#158585'}, g);
  txt(1962, 130, 'H', 11, g, {fill:'#158585', 'font-style':'italic', 'font-weight':'bold'});
  txt(1970, 133, 'ext', 8, g, {fill:'#158585'});
  txt(2005, 128, 'FWHM 16 µm', 10, g);
  mk('line', {x1:2028, y1:139, x2:2044, y2:139, stroke:'#000'}, g);
  const probe = mk('circle', {cx:2036, cy:148, r:9, fill:'url(#spot)', stroke:'#a00', 'stroke-width':0.5}, g);
  
  txt(1984, 150, 'Probe', 10, g, {'font-weight':'bold'});
  txt(1984, 163, 'stationary', 9.5, g);
  const pump = mk('circle', {cx:2038, cy:222, r:39, fill:'url(#spot)', stroke:'#a00', 'stroke-width':0.5}, g);
  
  mk('line', {x1:2036, y1:222, x2:2036, y2:196, stroke:'#000'}, g);
  mk('line', {x1:2036, y1:222, x2:2062, y2:222, stroke:'#000'}, g);
  txt(1984, 224, 'Pump', 10, g, {'font-weight':'bold'});
  txt(1984, 237, 'movable', 9.5, g);
  mk('line', {x1:1997, y1:267, x2:2076, y2:267, stroke:'#000'}, g);
  mk('line', {x1:1997, y1:263, x2:1997, y2:271, stroke:'#000'}, g);
  mk('line', {x1:2076, y1:263, x2:2076, y2:271, stroke:'#000'}, g);
  txt(2006, 281, 'FWHM 70 µm', 10, g);
})();

// ---------------- FIG 2 TRMOKE ----------------
(function(){
  const g = grp('fig2-trmoke-traces-chart');
  const b = {x:2150, y:113, w:202, h:155};
  const xs = lin(-30, 1030, b.x, b.x + b.w), ys = lin(-0.001, 0.030, b.y + b.h, b.y);
  fig2TraceDx.forEach((dx, k) => {
    const off = 0.0285 - k * 0.00178;
    const amp = fig2TraceAmp[k] * 0.001;
    const vals = fig2Wave.map(w => off + w * amp);
    const col = (k === 0 || k === fig2TraceDx.length - 1) ? '#222' : (fig2TraceAmp[k] > 1.5 ? '#c83030' : '#7a1818');
    const pl = mk('polyline', {points:poly(fig2WaveT, vals, xs, ys), fill:'none', stroke:col, 'stroke-width':1.1}, g);
    
    if (k % 2 === 1 || k === 9) txt(b.x + b.w + 6, ys(off) + 3, String(dx), 8, g);
  });
  axes(g, b, xs, ys, [0,200,400,600,800,1000], [0,0.005,0.010,0.015,0.020,0.025,0.030], {fs:8.5, yf:v => v.toFixed(3).replace('.', ',')});
  txt(xs(500), 295, 'Time-delay τ (ps)', 9.5, g, {'text-anchor':'middle'});
  rotLabel(g, 2105, 190, 'Signal Difference (arb. u.)', 9);
  rotLabel(g, 2383, 190, 'Δx (µm)', 9);
})();

// ---------------- FIG 2 Fourier ----------------
(function(){
  const g = grp('fig2-fourier-spectrum-chart');
  const b = {x:2425, y:87, w:249, h:181};
  const xs = lin(0, 30, b.x, b.x + b.w), ys = lin(-1.07, 15.07, b.y + b.h, b.y);
  const fits = [[fig2KittelFit, '#e02020', 'kittel-fit-line', 0, 16], [fig2PsswFit, '#2020e0', 'pssw-fit-line', 14.5, 30]];
  fits.forEach(fp => {
    const p = fp[0], pts = [];
    for (let f = fp[3]; f <= fp[4]; f += 0.05){
      const hw = p[1] / 2;
      pts.push(xs(f).toFixed(1) + ',' + ys(p[2] * hw * hw / ((f - p[0]) * (f - p[0]) + hw * hw)).toFixed(1));
    }
    const pl = mk('polyline', {points:pts.join(' '), fill:'none', stroke:fp[1], 'stroke-width':1.3}, g);
    
  });
  fig2DataF.forEach((f, i) => {
    const c = mk('circle', {cx:xs(f), cy:ys(fig2DataV[i]), r:3, fill:'#111'}, g);
    
  });
  axes(g, b, xs, ys, fig2XTicks, fig2YTicks, {fs:10});
  txt(xs(15), 295, 'Frequency (GHz)', 11, g, {'text-anchor':'middle'});
  rotLabel(g, 2402, 177, 'Normalized Fourier-Signal (arb. u.)', 10.5);
  mk('line', {x1:2432, y1:114, x2:2458, y2:114, stroke:'#555', 'stroke-dasharray':'1,2'}, g);
  mk('circle', {cx:2445, cy:114, r:3, fill:'#111'}, g);
  txt(2461, 118, 'Fourierdata', 10.5, g);
  mk('line', {x1:2432, y1:128, x2:2458, y2:128, stroke:'#e07070', 'stroke-width':2.5}, g);
  txt(2461, 132, 'Kittel', 10.5, g);
  mk('line', {x1:2432, y1:142, x2:2458, y2:142, stroke:'#3030e0', 'stroke-width':1.5}, g);
  txt(2461, 146, 'PSSW', 10.5, g);
  txt(2522, 103, 'x', 10, g, {fill:'#e02020'});
  txt(2530, 103, '=12.62(3) GHz', 10, g, {fill:'#e02020'});
  txt(2437, 184, '0.77(8) GHz', 10, g, {fill:'#e02020'});
  mk('line', {x1:2493, y1:180, x2:2512, y2:180, stroke:'#e02020', 'stroke-width':1.5}, g);
  mk('line', {x1:2535, y1:180, x2:2555, y2:180, stroke:'#e02020', 'stroke-width':1.5}, g);
  txt(2566, 204, 'x', 10, g, {fill:'#2020e0'});
  txt(2574, 204, '=18.22(3) GHz', 10, g, {fill:'#2020e0'});
  mk('line', {x1:2547, y1:234, x2:2566, y2:234, stroke:'#2020e0', 'stroke-width':1.5}, g);
  mk('line', {x1:2590, y1:234, x2:2608, y2:234, stroke:'#2020e0', 'stroke-width':1.5}, g);
  txt(2610, 238, '0.90(6) GHz', 10, g, {fill:'#2020e0'});
})();

// ---------------- FIG 3 top heatmap ----------------
(function(){
  const g = grp('fig3-frequency-map');
  const b = {x:2436, y:613, w:195, h:185};
  const xs = lin(-90, 90, b.x, b.x + b.w), ys = lin(10, 22, b.y + b.h, b.y);
  const df = 0.25, cw = xs(10) - xs(0);
  fig3Dx.forEach((dx, i) => {
    for (let f = 10; f < 22; f += df){
      const fc = f + df / 2;
      const v = 0.05 + fig3KittelI[i] * Math.exp(-Math.pow((fc - fig3KittelF[i]) / 0.4, 2)) + fig3PsswI[i] * Math.exp(-Math.pow((fc - fig3PsswF[i]) / 0.55, 2));
      const r = mk('rect', {x:(xs(dx) - cw / 2).toFixed(1), y:ys(f + df).toFixed(1), width:(cw + 0.6).toFixed(1), height:(ys(f) - ys(f + df) + 0.6).toFixed(1), fill:cmap(v)}, g);
      
    }
  });
  const lk = mk('polyline', {points:poly(fig3Dx, fig3KittelF, xs, ys), fill:'none', stroke:'#222', 'stroke-width':1}, g);
  
  const lp = mk('polyline', {points:poly(fig3Dx, fig3PsswF, xs, ys), fill:'none', stroke:'#222', 'stroke-width':1}, g);
  
  fig3Dx.forEach((dx, i) => {
    mk('rect', {x:xs(dx) - 2, y:ys(fig3KittelF[i]) - 2, width:4, height:4, fill:'none', stroke:'#222', 'stroke-width':0.8}, g);
    mk('rect', {x:xs(dx) - 2, y:ys(fig3PsswF[i]) - 2, width:4, height:4, fill:'none', stroke:'#222', 'stroke-width':0.8}, g);
  });
  axes(g, b, xs, ys, fig3XTicks, fig3YTicks, {fs:10, tout:true, sw:0.8});
  txt(xs(20), ys(20.7), 'PSSW', 10, g, {fill:'#fff'});
  txt(xs(10), ys(15.7), 'Kittel', 10, g, {fill:'#fff'});
  txt(xs(0), 831, 'Δx (µm)', 10, g, {'text-anchor':'middle'});
  rotLabel(g, 2405, 705, 'Frequency (GHz)', 10);
})();

// ---------------- FIG 3 bottom ----------------
(function(){
  const g = grp('fig3-temperature-profile-chart');
  const b = {x:2419, y:872, w:202, h:151};
  const xs = lin(-97.5, 120, b.x, b.x + b.w), ys = lin(295, 705, b.y + b.h, b.y);
  [[fig3ParFit, '#000'], [fig3OrtFit, '#e01010']].forEach(fp => {
    const p = fp[0], pts = [];
    for (let x = -97; x <= 119; x += 2) pts.push(xs(x).toFixed(1) + ',' + ys(p[1] + (p[0] - p[1]) * Math.exp(-x * x / (2 * p[2] * p[2]))).toFixed(1));
    const pl = mk('polyline', {points:pts.join(' '), fill:'none', stroke:fp[1], 'stroke-width':1.2}, g);
    
  });
  fig3ParDx.forEach((dx, i) => {
    const r = mk('rect', {x:xs(dx) - 2, y:ys(fig3ParT[i]) - 2, width:4, height:4, fill:'#000'}, g);
    
  });
  fig3OrtDx.forEach((dx, i) => {
    const d = mk('polygon', {points:[[0,-3],[2.5,0],[0,3],[-2.5,0]].map(p => (xs(dx) + p[0]) + ',' + (ys(fig3OrtT[i]) + p[1])).join(' '), fill:'#e01010'}, g);
    
  });
  axes(g, b, xs, ys, fig3bXTicks, fig3bYTicks, {fs:9, frame:false, tout:true});
  txt(xs(0), 1050, 'Δx (µm)', 10, g, {'text-anchor':'middle'});
  rotLabel(g, 2391, 948, 'Temperature (K)', 9.5);
  txt(2424, 884, 'Kittel modes:', 9.5, g);
  mk('rect', {x:2428, y:893, width:3.5, height:3.5, fill:'#000'}, g);
  txt(2440, 898, 'parallel', 9, g);
  mk('circle', {cx:2430, cy:908, r:2, fill:'#e01010'}, g);
  txt(2440, 911, 'orthogonal', 9, g);
  const gi = grp('fig3-magnetization-inset');
  const ib = {x:2572, y:852, w:76, h:59};
  const ixs = lin(270, 640, ib.x, ib.x + ib.w), iys = lin(1.42, 1.67, ib.y + ib.h, ib.y);
  const il = mk('polyline', {points:poly(fig3InsetT, fig3InsetM, ixs, iys), fill:'none', stroke:'#111', 'stroke-width':1.2, 'stroke-dasharray':'1.5,1'}, gi);
  
  axes(gi, ib, ixs, iys, [300,400,500,600], [1.45,1.50,1.55,1.60,1.65], {fs:7.5, frame:false, tout:true, yf:v => v.toFixed(2)});
  txt(ixs(450), 940, 'T (K)', 9, gi, {'text-anchor':'middle'});
  rotLabel(gi, 2553, 882, 'M (T)', 8.5);
})();

// ---------------- FIG 4 ----------------
const fig4TopData = [[fig4aX, fig4aKittel, fig4aDE, fig4aFit], [fig4bX, fig4bKittel, fig4bDE, fig4bFit], [fig4cX, fig4cKittel, fig4cDE, fig4cFit]];
const fig4MidData = [[fig4aMidF, fig4aMidI], [fig4bMidF, fig4bMidI], [fig4cMidF, fig4cMidI]];
const fig4BotData = [[fig4aKiF, fig4aKiI, fig4aDeF, fig4aDeI], [fig4bKiF, fig4bKiI, fig4bDeF, fig4bDeI], [fig4cKiF, fig4cKiI, fig4cDeF, fig4cDeI]];
(function(){
  const panelX = [2897, 3152, 3409];
  const panelW = [216, 216, 215];
  const topLayout = [{ymin:-0.24, ymax:3.48, ticks:[0,1,2,3], fmt:v => String(v), bot:235},
                     {ymin:-0.084, ymax:0.893, ticks:[0,0.2,0.4,0.6,0.8], fmt:v => v.toFixed(1).replace('.', ','), bot:233},
                     {ymin:-2.4, ymax:50, ticks:[0,10,20,30,40,50], fmt:v => String(v), bot:237}];
  const letters = ['a)', 'b)', 'c)'];
  for (let p = 0; p < 3; p++){
    const X = panelX[p], W = panelW[p];
    const g = grp('fig4-panel-' + letters[p][0]);
    const ib = mk('rect', {x:X + 15, y:78, width:66, height:65, fill:'#8c8c8c', stroke:'#555'}, g);
    
    for (let r = 0; r < 4; r++) for (let c = 0; c < 4; c++){
      const off = p === 2 ? (r % 2) * 8 : 0;
      mk('circle', {cx:X + 24 + c * 15 + off - (p === 2 ? 4 : 0), cy:87 + r * 16, r:2.6, fill:'#333'}, g);
    }
    mk('line', {x1:X + 50, y1:136, x2:X + 70, y2:136, stroke:'#c01010', 'stroke-width':1.6}, g);
    mk('polygon', {points:(X + 74) + ',136 ' + (X + 68) + ',133 ' + (X + 68) + ',139', fill:'#c01010'}, g);
    txt(X + 54, 145, 'H', 7, g, {fill:'#c01010'});
    txt(X + 40, 116, 'scan', 7, g, {fill:'#ddd'});
    txt(X + 88, 90, letters[p], 11, g);
    const L = topLayout[p];
    const tb = {x:X, y:128, w:W, h:L.bot - 128};
    const xs = lin(-72, 72, X, X + W), ys = lin(L.ymin, L.ymax, tb.y + tb.h, tb.y);
    const d = fig4TopData[p], fit = d[3];
    [[fit[0], fit[1]], [fit[2], fit[3]]].forEach(fp => {
      const pts = [], s = fp[1] / 2.3548;
      for (let x = -72; x <= 72; x += 2) pts.push(xs(x).toFixed(1) + ',' + ys(fp[0] * Math.exp(-x * x / (2 * s * s))).toFixed(1));
      const pl = mk('polyline', {points:pts.join(' '), fill:'none', stroke:'#e02020', 'stroke-width':1.2}, g);
      
    });
    d[0].forEach((x, i) => {
      const k = mk('rect', {x:xs(x) - 1.8, y:ys(d[1][i]) - 1.8, width:3.6, height:3.6, fill:'#111'}, g);
      
      const e = mk('circle', {cx:xs(x), cy:ys(d[2][i]), r:1.8, fill:'#1a2ee0'}, g);
      
    });
    axes(g, tb, xs, ys, [-60,-30,0,30,60], L.ticks, {fs:9, frame:false, tout:true, xl:false, yf:L.fmt});
    rotLabel(g, X - 20, 180, 'Fourier-Power (arb. u.)', 8.5);
    mk('rect', {x:X + 150, y:133, width:3, height:3, fill:'#111'}, g);
    txt(X + 160, 137, 'Kittel', 9, g);
    mk('circle', {cx:X + 151, cy:147, r:1.6, fill:'#1a2ee0'}, g);
    txt(X + 160, 151, 'DE', 9, g);
    mk('line', {x1:X + 143, y1:157, x2:X + 157, y2:157, stroke:'#e02020', 'stroke-width':1.3}, g);
    txt(X + 160, 161, 'Gaussian fit', 9, g);
    const wl = fig4WidthLabels[p];
    const ya = p === 2 ? 197 : 181, yb = p === 2 ? 168 : 212;
    txt(X + 12, ya - 4, wl[0], 8.5, g, {fill:'#111'});
    mk('line', {x1:X + 15, y1:ya, x2:X + 50, y2:ya, stroke:'#111'}, g);
    mk('line', {x1:X + W - 60, y1:ya + (p === 2 ? 5 : 0), x2:X + W - 25, y2:ya + (p === 2 ? 5 : 0), stroke:'#111'}, g);
    txt(X + 5, yb - 4, wl[1], 8.5, g, {fill:'#2030d0'});
    mk('line', {x1:X + 25, y1:yb, x2:X + 58, y2:yb, stroke:'#2030d0'}, g);
    mk('line', {x1:X + W - 58, y1:yb, x2:X + W - 25, y2:yb, stroke:'#2030d0'}, g);

    const cw = 9.2 * W / 144;
    const mid = {x:X, y:257, w:W, h:95};
    const mxs = lin(-72, 72, X, X + W), mys = lin(13, 15, mid.y + mid.h, mid.y);
    const gm = grp('fig4-de-map-' + letters[p][0]);
    const md = fig4MidData[p];
    fig4HmDx.forEach((dx, i) => {
      for (let f = 13; f < 15; f += 0.1){
        const fc = f + 0.05;
        const v = 0.08 + md[1][i] * Math.exp(-Math.pow((fc - md[0][i]) / (p === 2 ? 0.35 : 0.22), 2)) + (i % 3 === 0 ? 0.05 : 0);
        const r = mk('rect', {x:(mxs(dx) - cw / 2).toFixed(1), y:mys(f + 0.1).toFixed(1), width:(cw + 0.6).toFixed(1), height:(mys(f) - mys(f + 0.1) + 0.6).toFixed(1), fill:cmap(v)}, gm);
        
      }
    });
    axes(gm, mid, mxs, mys, fig4HmXTicks, [13,14,15], {fs:9, tout:true, sw:0.8, xl:false});
    rotLabel(gm, X - 22, 305, 'Frequency (GHz)', 8.5);

    const bot = {x:X, y:375, w:W, h:152};
    const bys = lin(10, 15, bot.y + bot.h, bot.y);
    const gb = grp('fig4-spectrum-map-' + letters[p][0]);
    const bd = fig4BotData[p];
    fig4HmDx.forEach((dx, i) => {
      for (let f = 10; f < 15; f += 0.1){
        const fc = f + 0.05;
        const v = 0.06 + bd[1][i] * Math.exp(-Math.pow((fc - bd[0][i]) / 0.28, 2)) + bd[3][i] * Math.exp(-Math.pow((fc - bd[2][i]) / 0.28, 2));
        const r = mk('rect', {x:(mxs(dx) - cw / 2).toFixed(1), y:bys(f + 0.1).toFixed(1), width:(cw + 0.6).toFixed(1), height:(bys(f) - bys(f + 0.1) + 0.6).toFixed(1), fill:cmap(v)}, gb);
        
      }
    });
    fig4HmDx.forEach((dx, i) => {
      [bd[0][i], bd[2][i]].forEach(f => {
        const dm = mk('polygon', {points:[[0,-2.2],[1.8,0],[0,2.2],[-1.8,0]].map(q => (mxs(dx) + q[0]).toFixed(1) + ',' + (bys(f) + q[1]).toFixed(1)).join(' '), fill:'none', stroke:'#333', 'stroke-width':0.6}, gb);
        
      });
    });
    axes(gb, bot, mxs, bys, fig4HmXTicks, [10,11,12,13,14,15], {fs:9, tout:true, sw:0.8});
    txt(mxs(0), bys(14.3), 'DE', 9, gb, {fill:'#fff', 'text-anchor':'middle'});
    txt(mxs(0), bys(10.9), 'Kittel', 9, gb, {fill:'#fff', 'text-anchor':'middle'});
    rotLabel(gb, X - 22, 450, 'Frequency (GHz)', 8.5);
    txt(mxs(0), 553, 'Δx (µm)', 9, gb, {'text-anchor':'middle'});
  }
})();
</script>
</body>
</html>
